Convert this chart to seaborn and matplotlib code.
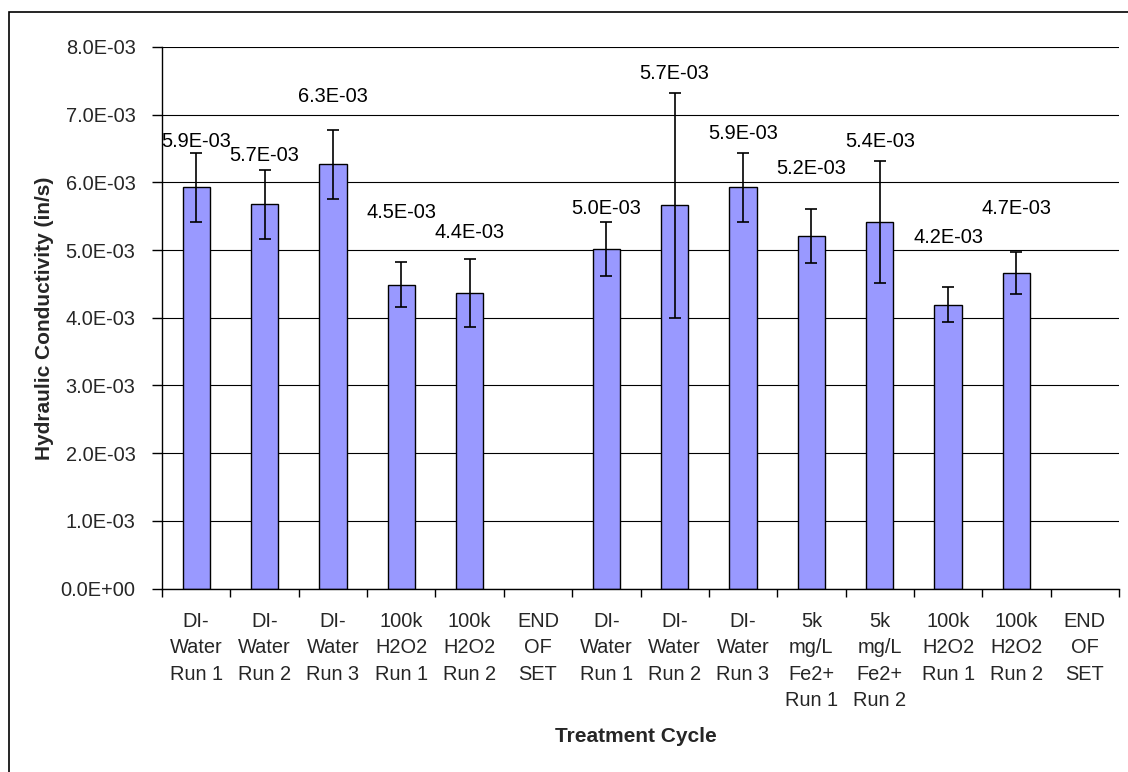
import numpy as np
import pandas as pd
import seaborn as sns
import matplotlib.pyplot as plt
from matplotlib.patches import Rectangle
from matplotlib.ticker import FixedLocator, FuncFormatter

# Treatment cycles (two sets of columns)
cycles = [
    "DI-\nWater\nRun 1", "DI-\nWater\nRun 2", "DI-\nWater\nRun 3",
    "100k\nH2O2\nRun 1", "100k\nH2O2\nRun 2", "END\nOF\nSET",
    "DI-\nWater\nRun 1", "DI-\nWater\nRun 2", "DI-\nWater\nRun 3",
    "5k\nmg/L\nFe2+\nRun 1", "5k\nmg/L\nFe2+\nRun 2",
    "100k\nH2O2\nRun 1", "100k\nH2O2\nRun 2", "END\nOF\nSET",
]

# Mean hydraulic conductivity (in/s) and +/- error
conductivity = [5.93e-3, 5.68e-3, 6.27e-3, 4.49e-3, 4.37e-3, np.nan,
                5.01e-3, 5.66e-3, 5.93e-3, 5.21e-3, 5.41e-3, 4.19e-3, 4.66e-3, np.nan]
errors = [0.51e-3, 0.51e-3, 0.51e-3, 0.33e-3, 0.50e-3, np.nan,
          0.40e-3, 1.66e-3, 0.51e-3, 0.40e-3, 0.90e-3, 0.26e-3, 0.31e-3, np.nan]

# Height of each value label (centre), in axis units
label_heights = [6.60e-3, 6.39e-3, 7.27e-3, 5.55e-3, 5.26e-3, np.nan,
                 5.61e-3, 7.61e-3, 6.72e-3, 6.21e-3, 6.60e-3, 5.18e-3, 5.61e-3, np.nan]

y_ticks = np.arange(0, 8.5e-3, 1e-3)

sns.set_theme(style="white")
plt.rcParams["font.family"] = ["Liberation Sans", "DejaVu Sans"]

W, H = 1128, 772
fig = plt.figure(figsize=(W / 100, H / 100), dpi=100)
fig.patch.set_facecolor("white")
ax = fig.add_axes([162 / W, 1 - 588.5 / H, (1119 - 162) / W, (588.5 - 47) / H])

n = len(cycles)
df = pd.DataFrame({"slot": [str(i) for i in range(n)], "K": conductivity})
sns.barplot(data=df, x="slot", y="K", order=list(df["slot"]), color="#9999FF",
            saturation=1, edgecolor="black", linewidth=1.0, width=0.4, ax=ax, zorder=2)

ax.errorbar(np.arange(n), conductivity, yerr=errors, fmt="none", ecolor="black",
            elinewidth=1.2, capsize=4, capthick=1.2, zorder=3)

for i, (v, h) in enumerate(zip(conductivity, label_heights)):
    if np.isnan(v):
        continue
    ax.text(i, h, f"{v:.1E}", ha="center", va="center", fontsize=14.4, color="black", zorder=4)

ax.set_xlim(-0.5, n - 0.5)
ax.set_ylim(0, 8e-3)
ax.set_yticks(y_ticks)
ax.yaxis.set_major_formatter(FuncFormatter(lambda v, p: f"{v:.1E}"))
ax.set_axisbelow(True)
ax.yaxis.grid(True, color="black", linewidth=0.8)
ax.xaxis.grid(False)

# category boundaries carry the tick marks; labels sit at the centres
ax.xaxis.set_major_locator(FixedLocator(np.arange(n + 1) - 0.5))
ax.xaxis.set_major_formatter(FuncFormatter(lambda v, p: ""))
ax.xaxis.set_minor_locator(FixedLocator(np.arange(n)))
ax.set_xticklabels(cycles, minor=True, fontsize=14.4, linespacing=1.48, va="top")
ax.tick_params(axis="x", which="major", direction="out", length=6, width=1, color="black", bottom=True)
ax.tick_params(axis="x", which="minor", length=0, pad=17)
ax.tick_params(axis="y", direction="out", length=7, width=1, color="black", left=True,
               labelsize=14.4, pad=12)

for side in ("top", "right"):
    ax.spines[side].set_visible(False)
for side in ("left", "bottom"):
    ax.spines[side].set_color("black")
    ax.spines[side].set_linewidth(1.0)

ax.set_xlabel("")
ax.set_ylabel("")
fig.text(45 / W, 1 - 318 / H, "Hydraulic Conductivity (in/s)", rotation=90,
         ha="center", va="center", fontsize=15, fontweight="bold")
fig.text(636 / W, 1 - 737 / H, "Treatment Cycle", ha="center", va="center",
         fontsize=15, fontweight="bold")

fig.add_artist(Rectangle((8.5 / W, -0.05), 1.2, 1 - 12 / H + 0.05, transform=fig.transFigure,
                         fill=False, edgecolor="black", linewidth=1.2))

fig.savefig("out.png", dpi=100)
